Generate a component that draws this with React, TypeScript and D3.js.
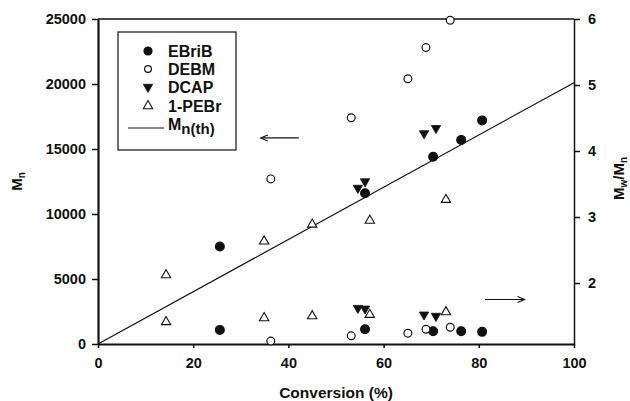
import React, { useRef, useEffect } from "react";
import * as d3 from "d3";

// EBriB
const ebribConv = [25.6, 56.1, 70.4, 76.3, 80.7];
const ebribMn = [7500, 11600, 14400, 15700, 17200];
const ebribPdi = [1.29, 1.3, 1.27, 1.27, 1.26];
// DEBM
const debmConv = [36.3, 53.2, 65.1, 68.9, 74.0];
const debmMn = [12700, 17400, 20400, 22800, 24900];
const debmPdi = [1.12, 1.2, 1.24, 1.3, 1.33];
// DCAP
const dcapConv = [54.6, 56.1, 68.5, 71.0];
const dcapMn = [12000, 12500, 16200, 16600];
const dcapPdi = [1.62, 1.61, 1.52, 1.5];
// 1-PEBr
const pebrConv = [14.3, 34.9, 45.0, 57.1, 73.1];
const pebrMn = [5300, 7900, 9200, 9500, 11100];
const pebrPdi = [1.41, 1.47, 1.5, 1.52, 1.56];
// theoretical Mn line
const thConv = [0, 100];
const thMn = [0, 20100];

const xTicks = [0, 20, 40, 60, 80, 100];
const yTicks = [0, 5000, 10000, 15000, 20000, 25000];
const y2Ticks = [2, 3, 4, 5, 6];
const legendNames = ["EBriB", "DEBM", "DCAP", "1-PEBr"];

const W = 630, H = 401;
const margin = { top: 19, right: 56, bottom: 57, left: 98 };
const font = "'Liberation Sans', Arial, sans-serif";

function App() {
  const svgRef = useRef(null);

  useEffect(() => {
    const svg = d3.select(svgRef.current);
    svg.selectAll("*").remove();
    const iw = W - margin.left - margin.right;
    const ih = H - margin.top - margin.bottom;

    const x = d3.scaleLinear().domain([0, 100]).range([0, iw]);
    const y = d3.scaleLinear().domain([0, 25000]).range([ih, 0]);
    const y2 = d3.scaleLinear().domain([1.076, 6]).range([ih, 0]);

    const g = svg.append("g").attr("transform", `translate(${margin.left},${margin.top})`);

    // frame top
    g.append("line").attr("x1", 0).attr("x2", iw).attr("y1", 0).attr("y2", 0)
      .attr("stroke", "#111").attr("stroke-width", 1.5);

    // axes
    const xAxis = g.append("g").attr("transform", `translate(0,${ih})`)
      .call(d3.axisBottom(x).tickValues(xTicks).tickSize(4).tickSizeOuter(0).tickPadding(10));
    const yAxis = g.append("g")
      .call(d3.axisLeft(y).tickValues(yTicks).tickSize(6).tickSizeOuter(0).tickPadding(6).tickFormat(d3.format("d")));
    const y2Axis = g.append("g").attr("transform", `translate(${iw},0)`)
      .call(d3.axisRight(y2).tickValues(y2Ticks).tickSize(6).tickSizeOuter(0).tickPadding(8).tickFormat(d3.format("d")));

    [xAxis, yAxis, y2Axis].forEach((a) => {
      a.selectAll("text").attr("font-family", font).attr("font-weight", "bold")
        .attr("font-size", 14.5).attr("fill", "#111");
      a.selectAll("line").attr("stroke", "#111").attr("stroke-width", 1.5);
      a.select(".domain").attr("stroke", "#111");
    });
    xAxis.select(".domain").attr("stroke-width", 2.2);
    yAxis.select(".domain").attr("stroke-width", 2.2);
    y2Axis.select(".domain").attr("stroke-width", 1.5);

    // axis titles
    g.append("text").attr("x", iw / 2).attr("y", ih + 54).attr("text-anchor", "middle")
      .attr("font-family", font).attr("font-weight", "bold").attr("font-size", 15.5).attr("fill", "#111")
      .text("Conversion (%)");

    const ml = g.append("text").attr("transform", `translate(-76,${ih / 2}) rotate(-90)`)
      .attr("text-anchor", "middle").attr("font-family", font).attr("font-weight", "bold")
      .attr("font-size", 15).attr("fill", "#111");
    ml.append("tspan").text("M");
    ml.append("tspan").attr("font-size", 10).attr("dy", 3).text("n");

    const mr = g.append("text").attr("transform", `translate(${iw + 50},${ih / 2 - 3}) rotate(-90)`)
      .attr("text-anchor", "middle").attr("font-family", font).attr("font-weight", "bold")
      .attr("font-size", 15).attr("fill", "#111");
    mr.append("tspan").text("M");
    mr.append("tspan").attr("font-size", 10).attr("dy", 3).text("w");
    mr.append("tspan").attr("dy", -3).text("/M");
    mr.append("tspan").attr("font-size", 10).attr("dy", 3).text("n");

    // theory line
    const line = d3.line().x((d) => x(d[0])).y((d) => y(d[1]));
    g.append("path").datum(thConv.map((c, i) => [c, thMn[i]]))
      .attr("d", line).attr("fill", "none").attr("stroke", "#111").attr("stroke-width", 1.2);

    // markers
    const tri = d3.symbol().type(d3.symbolTriangle).size(38);
    const drawSet = (conv, vals, scale, kind) => {
      const pts = conv.map((c, i) => [x(c), scale(vals[i])]);
      if (kind === "filled" || kind === "open") {
        g.append("g").selectAll("circle").data(pts).join("circle")
          .attr("cx", (d) => d[0]).attr("cy", (d) => d[1]).attr("r", kind === "filled" ? 4.4 : 3.9)
          .attr("fill", kind === "filled" ? "#111" : "#fff")
          .attr("stroke", "#111").attr("stroke-width", 1.2);
      } else {
        g.append("g").selectAll("path").data(pts).join("path")
          .attr("d", tri)
          .attr("transform", (d) => `translate(${d[0]},${d[1]})${kind === "down" ? " rotate(180)" : ""}`)
          .attr("fill", kind === "down" ? "#111" : "#fff")
          .attr("stroke", "#111").attr("stroke-width", kind === "down" ? 0.8 : 1.1);
      }
    };
    drawSet(ebribConv, ebribMn, y, "filled");
    drawSet(ebribConv, ebribPdi, y2, "filled");
    drawSet(debmConv, debmMn, y, "open");
    drawSet(debmConv, debmPdi, y2, "open");
    drawSet(dcapConv, dcapMn, y, "down");
    drawSet(dcapConv, dcapPdi, y2, "down");
    drawSet(pebrConv, pebrMn, y, "up");
    drawSet(pebrConv, pebrPdi, y2, "up");

    // arrows
    const arrow = (x1, x2, yy) => {
      const dir = Math.sign(x2 - x1);
      g.append("line").attr("x1", x1).attr("x2", x2).attr("y1", yy).attr("y2", yy)
        .attr("stroke", "#111").attr("stroke-width", 1.2);
      g.append("path")
        .attr("d", `M${x2 - dir * 7},${yy - 3}L${x2},${yy}L${x2 - dir * 7},${yy + 3}`)
        .attr("fill", "none").attr("stroke", "#111").attr("stroke-width", 1.2);
    };
    arrow(x(42.2), x(34.2), y(15850));
    arrow(x(81.3), x(89.6), y2(1.75));

    // legend
    const lg = g.append("g").attr("transform", "translate(20,13)");
    lg.append("rect").attr("width", 118).attr("height", 118)
      .attr("fill", "#fff").attr("stroke", "#111").attr("stroke-width", 1.2);
    const rowY = [19, 37, 55, 74, 96];
    const kinds = ["filled", "open", "down", "up"];
    legendNames.forEach((name, i) => {
      const cy = rowY[i];
      if (kinds[i] === "filled" || kinds[i] === "open") {
        lg.append("circle").attr("cx", 30).attr("cy", cy).attr("r", kinds[i] === "filled" ? 4 : 3.4)
          .attr("fill", kinds[i] === "filled" ? "#111" : "#fff").attr("stroke", "#111").attr("stroke-width", 1.2);
      } else {
        lg.append("path").attr("d", tri)
          .attr("transform", `translate(30,${cy})${kinds[i] === "down" ? " rotate(180)" : ""}`)
          .attr("fill", kinds[i] === "down" ? "#111" : "#fff").attr("stroke", "#111")
          .attr("stroke-width", kinds[i] === "down" ? 0.8 : 1.1);
      }
      lg.append("text").attr("x", 50).attr("y", cy + 5.5)
        .attr("font-family", font).attr("font-weight", "bold").attr("font-size", 16).attr("fill", "#111")
        .text(name);
    });
    lg.append("line").attr("x1", 10).attr("x2", 46).attr("y1", rowY[4]).attr("y2", rowY[4])
      .attr("stroke", "#111").attr("stroke-width", 1.2);
    const lt = lg.append("text").attr("x", 50).attr("y", rowY[4] + 2)
      .attr("font-family", font).attr("font-weight", "bold").attr("font-size", 16).attr("fill", "#111");
    lt.append("tspan").text("M");
    lt.append("tspan").attr("font-size", 15).attr("dy", 4).text("n(th)");
  }, []);

  return (
    <div style={{ position: "absolute", left: 0, top: 0 }}>
      <svg ref={svgRef} width={W} height={H} style={{ display: "block", background: "#fff" }} />
    </div>
  );
}

export default App;
